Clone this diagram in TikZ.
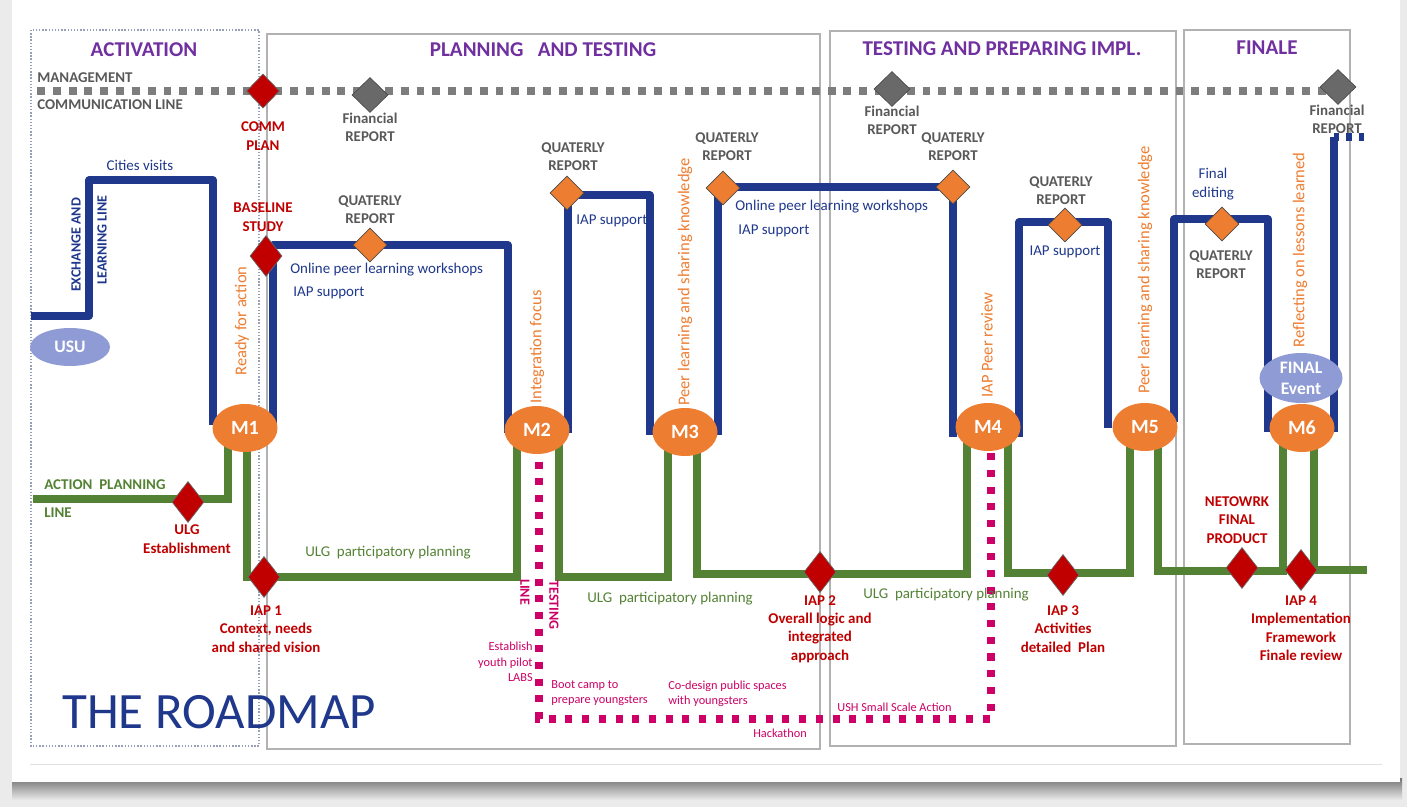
\documentclass[tikz,border=0pt]{standalone}
\usepackage{fontspec}
\setmainfont{Carlito}
\usetikzlibrary{shapes.geometric}
\definecolor{navy}{RGB}{31,56,140}
\definecolor{grn}{RGB}{84,130,53}
\definecolor{orng}{RGB}{237,125,49}
\definecolor{dred}{RGB}{192,0,0}
\definecolor{dgray}{RGB}{105,105,105}
\definecolor{tgray}{RGB}{89,89,89}
\definecolor{mgray}{RGB}{125,125,125}
\definecolor{mag}{RGB}{204,0,102}
\definecolor{lilacc}{RGB}{142,155,212}
\definecolor{ttlpurple}{RGB}{112,48,160}
\definecolor{slate}{RGB}{150,160,185}
\tikzset{
  phase/.style={draw=black!30, line width=0.6pt},
  phasetitle/.style={text=ttlpurple, font=\bfseries\fontsize{12}{14}\selectfont},
  mgmt/.style={line width=4pt, draw=mgray, dash pattern=on 4.5pt off 4.5pt},
  exline/.style={line width=4pt, draw=navy, line join=round},
  actline/.style={line width=4pt, draw=grn},
  testline/.style={line width=4pt, draw=mag, dash pattern=on 4pt off 5.5pt},
  milestone/.style={ellipse, fill=orng, text=white, font=\bfseries\fontsize{11.5}{12}\selectfont, minimum width=1.3cm, minimum height=0.96cm, inner sep=0pt},
  evtblob/.style={ellipse, fill=lilacc, text=white, font=\bfseries\fontsize{10}{12}\selectfont, align=center, inner sep=0pt},
  reddia/.style={diamond, draw=black!60, fill=dred, inner sep=0pt, minimum width=0.64cm, minimum height=0.82cm},
  greydia/.style={diamond, draw=black!70, fill=dgray, inner sep=0pt, minimum width=0.72cm, minimum height=0.7cm},
  orangedia/.style={diamond, draw=black!70, fill=orng, inner sep=0pt, minimum width=0.68cm, minimum height=0.68cm},
  redtxt/.style={text=dred, font=\bfseries\fontsize{8.5}{10.5}\selectfont, align=center, inner sep=0pt},
  greytxt/.style={text=tgray, font=\bfseries\fontsize{8.5}{10.2}\selectfont, align=center, inner sep=0pt},
  bluetxt/.style={text=navy, font=\fontsize{8.5}{11}\selectfont, inner sep=0pt},
  exlbl/.style={text=navy, font=\bfseries\fontsize{8}{9}\selectfont, rotate=90, inner sep=0pt},
  oratxt/.style={text=orng, font=\fontsize{9.4}{10}\selectfont, rotate=90, inner sep=0pt},
  magtxt/.style={text=mag, font=\fontsize{7}{8.8}\selectfont, inner sep=0pt},
  testlbl/.style={text=mag, font=\bfseries\fontsize{8}{9}\selectfont, rotate=-90, inner sep=0pt},
  grntxt/.style={text=grn, font=\fontsize{8.5}{10}\selectfont, inner sep=0pt},
  grnlbl/.style={text=grn, font=\bfseries\fontsize{8.5}{10}\selectfont, inner sep=0pt, anchor=west},
}
\begin{document}
\begin{tikzpicture}[x=0.02cm,y=-0.02cm]
\useasboundingbox (0,0) rectangle (1407,807);
% card and shadow
\fill[black!8] (0,0) rectangle (1407,807);
\shade[top color=black!55, bottom color=black!8] (12,778) rectangle (1402,800);
\fill[white] (12,0) rectangle (1400,782);
\draw[black!12] (30,764) -- (1382,764);

% phases
\draw[densely dotted, draw=slate, line width=0.8pt] (31,30) rectangle (259,746);
\draw[phase] (267,34) rectangle (820,749);
\draw[phase] (830,31) rectangle (1176,746);
\draw[phase] (1184,30) rectangle (1350,744);
\node[phasetitle] (activ) at (144,50) {ACTIVATION};
\node[phasetitle] (plan) at (543,50) {PLANNING \ \ AND TESTING};
\node[phasetitle] (prep) at (1002,49) {TESTING AND PREPARING IMPL.};
\node[phasetitle] (finale) at (1267,48) {FINALE};

% management line
\draw[mgmt] (37,91) -- (1338,91);
\node[greytxt, anchor=west] (mgt) at (37,78) {MANAGEMENT};
\node[greytxt, anchor=west] (comline) at (37,105) {COMMUNICATION LINE};

% exchange and learning line
\draw[exline] (31,316) -| (89,180) -| (213,425);
\draw[exline] (273,425) |- (508,245) -- (508,433);
\draw[exline] (568,433) |- (650,195) -- (650,435);
\draw[exline] (718,435) |- (953,187) -- (953,437);
\draw[exline] (1019,437) |- (1108,222) -- (1108,428);
\draw[exline] (1174,422) |- (1268,219) -- (1268,432);
\draw[exline] (1334,432) -- (1334,137);
\draw[line width=4pt, draw=navy, dash pattern=on 3pt off 4pt] (1334,137) -- (1370,137);

% testing line
\draw[testline] (539,445) -- (539,719) -- (991,719) -- (991,445);

% action planning line
\draw[actline] (33,499) -| (228,430);
\draw[actline] (247,430) |- (517,577) -- (517,430);
\draw[actline] (559,430) |- (668,577) -- (668,430);
\draw[actline] (697,430) |- (967,574) -- (967,430);
\draw[actline] (1008,430) |- (1130,573) -- (1130,430);
\draw[actline] (1158,430) |- (1283,571) -- (1283,430);
\draw[actline] (1314,430) |- (1367,570);

% milestones
\node[milestone] (m1) at (245,428) {M1};
\node[milestone] (m2) at (537,430) {M2};
\node[milestone] (m3) at (685,432) {M3};
\node[milestone] (m4) at (988,427) {M4};
\node[milestone] (m5) at (1145,427) {M5};
\node[milestone] (m6) at (1302,428) {M6};
\node[evtblob, minimum width=1.6cm, minimum height=0.76cm] (usu) at (70,347) {USU};
\node[evtblob, minimum width=1.66cm, minimum height=1cm] (final) at (1301,378) {FINAL\\Event};

% diamonds
\node[reddia, minimum width=0.66cm, minimum height=0.68cm] (comm) at (263,91) {};
\node[greydia] (fin1) at (370,95) {};
\node[greydia] (fin2) at (892,89) {};
\node[greydia] (fin3) at (1338,87) {};
\node[reddia] (baseline) at (266,256) {};
\node[orangedia] (qr1) at (370,245) {};
\node[orangedia] (qr2) at (567,193) {};
\node[orangedia] (qr3) at (723,188) {};
\node[orangedia] (qr4) at (953,187) {};
\node[orangedia] (qr5) at (1065,225) {};
\node[orangedia] (qr6) at (1222,224) {};
\node[reddia] (ulg) at (188,502) {};
\node[reddia] (iap1) at (264,577) {};
\node[reddia] (iap2) at (820,572) {};
\node[reddia] (iap3) at (1063,575) {};
\node[reddia] (netprod) at (1242,568) {};
\node[reddia] (iap4) at (1301,570) {};

% grey labels
\node[greytxt] (fin1t) at (370,127) {Financial\\REPORT};
\node[greytxt] (fin2t) at (892,120) {Financial\\REPORT};
\node[greytxt] (fin3t) at (1337,119) {Financial\\REPORT};
\node[greytxt] (qr1t) at (370,210) {QUATERLY\\REPORT};
\node[greytxt] (qr2t) at (573,157) {QUATERLY\\REPORT};
\node[greytxt] (qr3t) at (727,147) {QUATERLY\\REPORT};
\node[greytxt] (qr4t) at (953,147) {QUATERLY\\REPORT};
\node[greytxt] (qr5t) at (1061,191) {QUATERLY\\REPORT};
\node[greytxt] (qr6t) at (1221,265) {QUATERLY\\REPORT};

% red labels
\node[redtxt] (commt) at (263,136) {COMM\\PLAN};
\node[redtxt] (baset) at (263,217) {BASELINE\\STUDY};
\node[redtxt] (ulgt) at (187,539) {ULG\\Establishment};
\node[redtxt] (iap1t) at (266,629) {IAP 1\\Context, needs\\and shared vision};
\node[redtxt] (iap2t) at (820,629) {IAP 2\\Overall logic and\\integrated\\approach};
\node[redtxt] (iap3t) at (1063,629) {IAP 3\\Activities\\detailed \ Plan};
\node[redtxt] (netprodt) at (1237,520) {NETOWRK\\FINAL\\PRODUCT};
\node[redtxt] (iap4t) at (1301,628) {IAP 4\\Implementation\\Framework\\Finale review};

% blue labels
\node[bluetxt] (cities) at (140,165) {Cities visits};
\node[exlbl] (exch1) at (76,245) {EXCHANGE AND};
\node[exlbl] (exch2) at (102,240) {LEARNING LINE};
\node[bluetxt, anchor=west] (opl1) at (290,270) {Online peer learning workshops};
\node[bluetxt, anchor=west] (iaps1) at (293,293) {IAP support};
\node[bluetxt, anchor=west] (iaps2) at (576,221) {IAP support};
\node[bluetxt, anchor=west] (opl2) at (735,207) {Online peer learning workshops};
\node[bluetxt, anchor=west] (iaps3) at (738,231) {IAP support};
\node[bluetxt] (iaps4) at (1065,252) {IAP support};
\node[bluetxt, align=center] (fedit) at (1213,184) {Final\\editing};

% orange labels
\node[oratxt] (ready) at (242,321) {Ready for action};
\node[oratxt] (integ) at (537,347) {Integration focus};
\node[oratxt] (peer1) at (685,282) {Peer learning and sharing knowledge};
\node[oratxt] (peerrev) at (987,345) {IAP Peer review};
\node[oratxt] (peer2) at (1145,270) {Peer learning and sharing knowledge};
\node[oratxt] (reflect) at (1300,250) {Reflecting on lessons learned};

% green labels
\node[grnlbl] (apl1) at (44,485) {ACTION \ PLANNING};
\node[grnlbl] (apl2) at (44,513) {LINE};
\node[grntxt] (ulgp1) at (388,553) {ULG \ participatory planning};
\node[grntxt] (ulgp2) at (670,599) {ULG \ participatory planning};
\node[grntxt] (ulgp3) at (946,595) {ULG \ participatory planning};

% testing labels
\node[testlbl] (tst1) at (554,605) {TESTING};
\node[testlbl] (tst2) at (525,592) {LINE};
\node[magtxt, align=right, anchor=east] (labs) at (533,662) {Establish\\youth pilot\\LABS};
\node[magtxt, align=left, anchor=west] (boot) at (551,693) {Boot camp to\\prepare youngsters};
\node[magtxt, align=left, anchor=west] (codes) at (668,694) {Co-design public spaces\\with youngsters};
\node[magtxt] (hack) at (780,733) {Hackathon};
\node[magtxt, anchor=west] (ush) at (837,707) {USH Small Scale Action};

\node[text=navy, font=\fontsize{29}{31}\selectfont, anchor=west, inner sep=0pt] (title) at (62,712) {THE ROADMAP};
\end{tikzpicture}
\end{document}
